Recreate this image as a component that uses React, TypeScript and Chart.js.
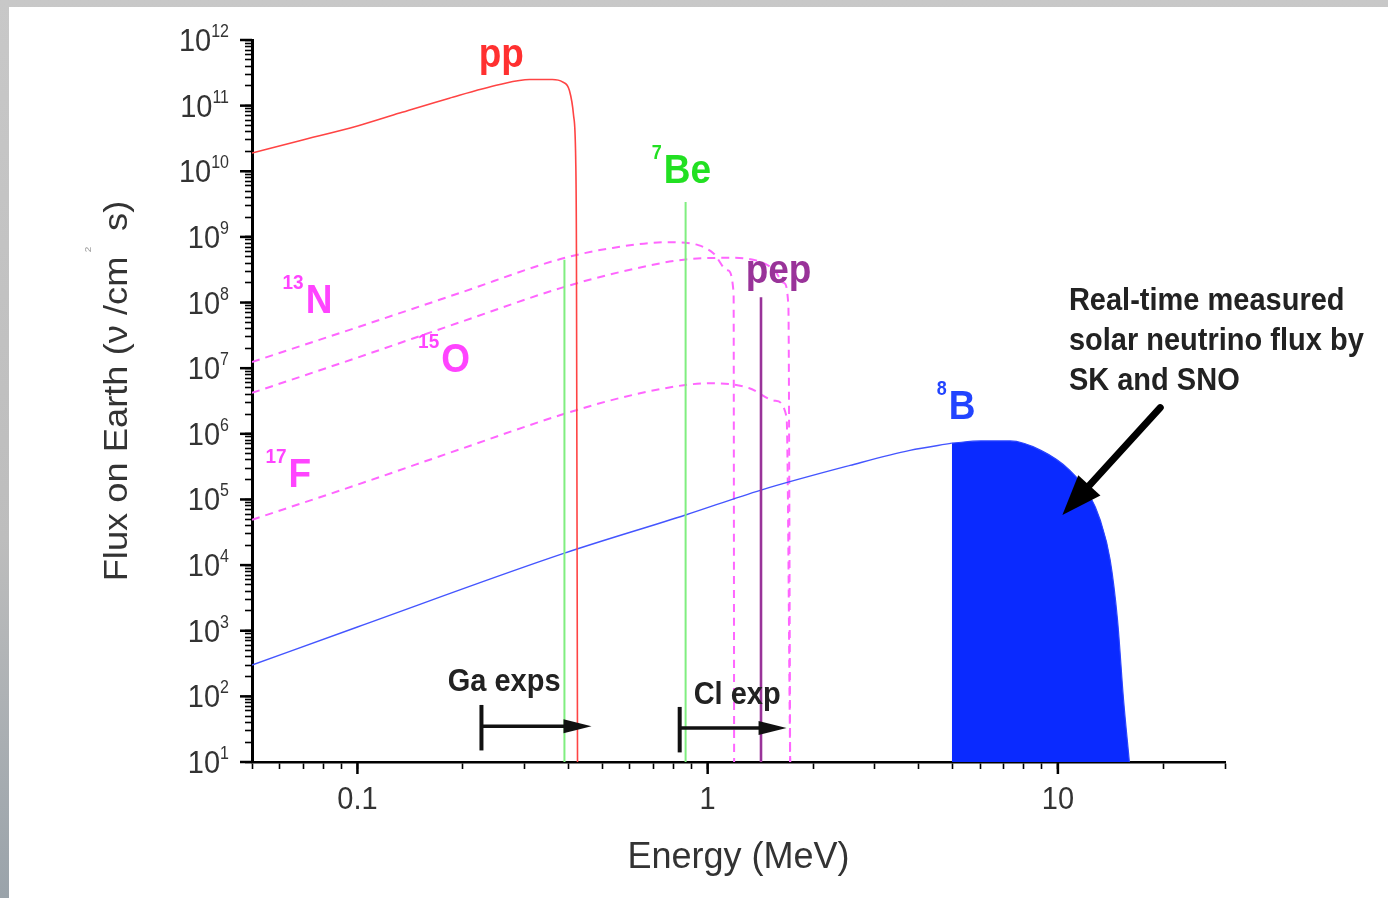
import React, { useEffect, useRef } from "react";
import { Chart, registerables } from "chart.js";

Chart.register(...registerables);

// ---------------- data (energy in MeV, flux in ν / cm² s) ----------------
const ppEnergy = [0.05, 0.068, 0.1, 0.132, 0.183, 0.255, 0.31, 0.36, 0.385, 0.403, 0.414, 0.42, 0.422, 0.425];
const ppFlux = [1.9e10, 2.9e10, 4.9e10, 7.7e10, 1.3e11, 2.1e11, 2.5e11, 2.5e11, 2.3e11, 1.7e11, 7.2e10, 1.5e10, 6.3e8, 10];

const n13Energy = [0.05, 0.1, 0.196, 0.38, 0.535, 0.774, 0.94, 1.04, 1.14, 1.186, 1.19];
const n13Flux = [1.24e7, 4.2e7, 1.4e8, 4.6e8, 6.8e8, 8.3e8, 7.5e8, 5.6e8, 3.1e8, 1.4e8, 10];

const o15Energy = [0.05, 0.1, 0.196, 0.38, 0.56, 0.854, 1.155, 1.41, 1.55, 1.65, 1.7, 1.72];
const o15Flux = [4.2e6, 1.45e7, 5.0e7, 1.66e8, 2.9e8, 4.5e8, 4.8e8, 4.2e8, 3.1e8, 2.0e8, 9.1e7, 10];

const f17Energy = [0.05, 0.1, 0.196, 0.38, 0.56, 0.854, 1.02, 1.31, 1.56, 1.68, 1.72];
const f17Flux = [4.9e4, 1.68e5, 5.8e5, 1.93e6, 3.5e6, 5.5e6, 5.9e6, 5.0e6, 3.2e6, 1.8e6, 10];

const b8Energy = [0.05, 0.1, 0.39, 0.865, 1.42, 2.55, 3.78, 4.98];
const b8Flux = [300, 1140, 1.52e4, 5.8e4, 1.39e5, 3.3e5, 5.6e5, 7.2e5];

const b8MeasuredEnergy = [4.98, 6.03, 7.3, 8.94, 10.8, 12.3, 13.2, 14.1, 14.8, 15.4, 16.0];
const b8MeasuredFlux = [7.2e5, 7.8e5, 7.8e5, 5.6e5, 2.8e5, 1.17e5, 4.9e4, 1.2e4, 1.46e3, 88, 10];

const be7LineEnergy = [0.39, 0.865];
const be7LineFlux = [4.5e8, 3.4e9];
const pepLineEnergy = [1.42];
const pepLineFlux = [1.2e8];

// experiment thresholds (arrows)
const expNames = ["Ga exps", "Cl exp"];
const expThreshold = [0.226, 0.832];
const expArrowEnd = [0.466, 1.68];
const expArrowFlux = [35, 33];
const expBarLow = [15, 14];
const expBarHigh = [74, 69];

// axis ticks
const xTickValues = [0.1, 1, 10];
const xTickLabels = ["0.1", "1", "10"];
const yTickExponents = [1, 2, 3, 4, 5, 6, 7, 8, 9, 10, 11, 12];
const X_MIN = 0.05;
const X_MAX = 30;
const Y_MIN = 10;
const Y_MAX = 1e12;

// annotation anchors (data coordinates)
const labelMain = ["pp", "Be", "pep", "N", "O", "F", "B"];
const labelSup = ["", "7", "", "13", "15", "17", "8"];
const labelEnergy = [0.222, 0.692, 1.284, 0.0611, 0.149, 0.0546, 4.51];
const labelFlux = [3.9e11, 6.6e9, 2.0e8, 6.9e7, 8.7e6, 1.55e5, 1.68e6];
const labelColor = ["#ff3030", "#22e022", "#993399", "#ff44ff", "#ff44ff", "#ff44ff", "#2244ff"];

const noteLines = ["Real-time measured", "solar neutrino flux by", "SK and SNO"];
const noteEnergy = 10.75;
const noteFlux = 7.7e7;
const bigArrowEnergy = [19.6, 10.3];
const bigArrowFlux = [2.5e6, 5.8e4];

// ---------------- helpers ----------------
const FONT = '"Liberation Sans", Arial, Helvetica, sans-serif';
const SY = 1.1;

function pts(xs: number[], ys: number[]) {
  return xs.map((x, i) => ({ x, y: ys[i] }));
}

function txt(ctx: CanvasRenderingContext2D, s: string, x: number, y: number, font: string, color: string, align: CanvasTextAlign = "left") {
  ctx.save();
  ctx.font = font;
  ctx.fillStyle = color;
  ctx.textAlign = align;
  ctx.textBaseline = "alphabetic";
  ctx.translate(x, y);
  ctx.scale(1, SY);
  ctx.fillText(s, 0, 0);
  ctx.restore();
}

function measure(ctx: CanvasRenderingContext2D, s: string, font: string) {
  ctx.save();
  ctx.font = font;
  const w = ctx.measureText(s).width;
  ctx.restore();
  return w;
}

const overlay = {
  id: "overlay",
  afterDraw(chart: any) {
    const { ctx, scales } = chart;
    const xs = scales.x;
    const ys = scales.y;
    const px = (v: number) => xs.getPixelForValue(v);
    const py = (v: number) => ys.getPixelForValue(v);
    const left = chart.chartArea.left;
    const bottom = chart.chartArea.bottom;

    ctx.save();
    // decade (major) ticks
    ctx.strokeStyle = "#000";
    ctx.lineWidth = 2.5;
    yTickExponents.forEach((e) => {
      const ty = py(Math.pow(10, e));
      ctx.beginPath();
      ctx.moveTo(left - 12, ty);
      ctx.lineTo(left, ty);
      ctx.stroke();
    });
    xTickValues.forEach((v) => {
      const tx = px(v);
      ctx.beginPath();
      ctx.moveTo(tx, bottom);
      ctx.lineTo(tx, bottom + 12);
      ctx.stroke();
    });

    // y tick labels 10^n
    const mainF = `29px ${FONT}`;
    const supF = `16px ${FONT}`;
    yTickExponents.forEach((e) => {
      const ty = py(Math.pow(10, e));
      const sw = measure(ctx, String(e), supF);
      const mw = measure(ctx, "10", mainF);
      const supX = 229 - sw;
      const mainX = supX - mw;
      txt(ctx, "10", mainX, ty + 11, mainF, "#333");
      txt(ctx, String(e), supX, ty - 3, supF, "#333");
    });

    // x tick labels
    xTickValues.forEach((v, i) => {
      txt(ctx, xTickLabels[i], px(v), 809, `29px ${FONT}`, "#333", "center");
    });

    // y title (rotated)
    {
      const f = `33px ${FONT}`;
      const fs = `9px ${FONT}`;
      const a = "Flux on Earth (\u03bd /cm";
      const b = "  s)";
      const wa = measure(ctx, a, f);
      const w2 = measure(ctx, "2", fs);
      const wb = measure(ctx, b, f);
      const total = wa + w2 + wb;
      ctx.save();
      ctx.translate(127, 391);
      ctx.scale(1, SY);
      ctx.rotate(-Math.PI / 2);
      ctx.fillStyle = "#333";
      ctx.textBaseline = "alphabetic";
      ctx.textAlign = "left";
      let cx = -total / 2;
      ctx.font = f;
      ctx.fillText(a, cx, 0);
      cx += wa;
      ctx.font = fs;
      ctx.fillStyle = "#999";
      ctx.fillText("2", cx + 4, -36);
      ctx.fillStyle = "#333";
      cx += w2;
      ctx.font = f;
      ctx.fillText(b, cx, 0);
      ctx.restore();
    }

    // isotope labels
    labelMain.forEach((m, i) => {
      const x0 = px(labelEnergy[i]);
      const y0 = py(labelFlux[i]);
      let cx = x0;
      if (labelSup[i]) {
        const sf = `bold ${labelSup[i].length > 1 ? 19 : 18}px ${FONT}`;
        txt(ctx, labelSup[i], cx, y0 - 24, sf, labelColor[i]);
        cx += measure(ctx, labelSup[i], sf) + 2;
      }
      txt(ctx, m, cx, y0, `bold 37px ${FONT}`, labelColor[i]);
    });

    // experiment arrows
    ctx.strokeStyle = "#111";
    ctx.fillStyle = "#111";
    expNames.forEach((name, i) => {
      const x0 = px(expThreshold[i]);
      const x1 = px(expArrowEnd[i]);
      const yy = py(expArrowFlux[i]);
      ctx.lineWidth = 4;
      ctx.beginPath();
      ctx.moveTo(x0, py(expBarLow[i]));
      ctx.lineTo(x0, py(expBarHigh[i]));
      ctx.stroke();
      ctx.lineWidth = 3.5;
      ctx.beginPath();
      ctx.moveTo(x0, yy);
      ctx.lineTo(x1 - 20, yy);
      ctx.stroke();
      ctx.beginPath();
      ctx.moveTo(x1, yy);
      ctx.lineTo(x1 - 28, yy - 7);
      ctx.lineTo(x1 - 28, yy + 7);
      ctx.closePath();
      ctx.fill();
    });
    txt(ctx, expNames[0], px(0.181), py(120), `bold 29px ${FONT}`, "#222");
    txt(ctx, expNames[1], px(0.912), py(76), `bold 29px ${FONT}`, "#222");

    // note text
    const nx = px(noteEnergy);
    const ny = py(noteFlux);
    noteLines.forEach((l, i) => {
      txt(ctx, l, nx, ny + i * 40, `bold 29px ${FONT}`, "#222");
    });

    // big arrow
    {
      const tx = px(bigArrowEnergy[0]);
      const tyy = py(bigArrowFlux[0]);
      const hx = px(bigArrowEnergy[1]);
      const hy = py(bigArrowFlux[1]);
      const ang = Math.atan2(hy - tyy, hx - tx);
      const L = 40;
      const W = 15;
      const bx = hx - L * Math.cos(ang);
      const by = hy - L * Math.sin(ang);
      ctx.strokeStyle = "#000";
      ctx.fillStyle = "#000";
      ctx.lineWidth = 7;
      ctx.lineCap = "round";
      ctx.beginPath();
      ctx.moveTo(tx, tyy);
      ctx.lineTo(bx + 5 * Math.cos(ang), by + 5 * Math.sin(ang));
      ctx.stroke();
      ctx.beginPath();
      ctx.moveTo(hx, hy);
      ctx.lineTo(bx + W * Math.sin(ang), by - W * Math.cos(ang));
      ctx.lineTo(bx - W * Math.sin(ang), by + W * Math.cos(ang));
      ctx.closePath();
      ctx.fill();
    }
    ctx.restore();
  },
};

function decadeTicks(min: number, max: number) {
  const out: { value: number }[] = [];
  for (let e = Math.floor(Math.log10(min)); e <= Math.ceil(Math.log10(max)); e++) {
    for (let m = 1; m <= 9; m++) {
      const v = m * Math.pow(10, e);
      if (v >= min * 0.999 && v <= max * 1.001) out.push({ value: v });
    }
  }
  return out;
}

export default function App() {
  const ref = useRef<HTMLCanvasElement>(null);

  useEffect(() => {
    if (!ref.current) return;
    const line = (data: any, color: string, width: number, dash: number[] = [], order = 0, smooth = true) => ({
      data,
      borderColor: color,
      borderWidth: width,
      borderDash: dash,
      pointRadius: 0,
      fill: false,
      cubicInterpolationMode: smooth ? "monotone" : "default",
      tension: 0,
      order,
    });
    const datasets: any[] = [
      line(pts(ppEnergy, ppFlux), "#ff4444", 1.6, [], 1),
      line(pts(n13Energy, n13Flux), "#ff66ff", 2, [8, 6], 3),
      line(pts(o15Energy, o15Flux), "#ff66ff", 2, [8, 6], 3),
      line(pts(f17Energy, f17Flux), "#ff66ff", 2, [8, 6], 3),
      line(pts(b8Energy, b8Flux), "#4455ff", 1.4, [], 2),
      {
        ...line(pts(b8MeasuredEnergy, b8MeasuredFlux), "#2a44ff", 1.2, [], 2),
        fill: "start",
        backgroundColor: "#0a2aff",
      },
      ...be7LineEnergy.map((e, i) =>
        line(pts([e, e], [be7LineFlux[i], Y_MIN]), "#80ee80", 2, [], 0, false)
      ),
      ...pepLineEnergy.map((e, i) =>
        line(pts([e, e], [pepLineFlux[i], Y_MIN]), "#993399", 2.6, [], 0, false)
      ),
    ];

    const chart = new Chart(ref.current, {
      type: "line",
      data: { datasets },
      options: {
        responsive: false,
        animation: false,
        devicePixelRatio: 1,
        layout: { padding: { top: 40, right: 163, left: 0, bottom: 0 } },
        plugins: { legend: { display: false }, tooltip: { enabled: false } },
        scales: {
          x: {
            type: "logarithmic",
            min: X_MIN,
            max: X_MAX,
            afterBuildTicks: (s: any) => {
              s.ticks = decadeTicks(X_MIN, X_MAX);
            },
            afterFit: (s: any) => {
              s.height = 136;
            },
            ticks: { display: false },
            grid: {
              drawOnChartArea: false,
              drawTicks: true,
              tickLength: 7,
              tickColor: "#000",
              tickWidth: 1.6,
            },
            border: { display: true, color: "#000", width: 2.5 },
            title: {
              display: true,
              text: "Energy (MeV)",
              color: "#333",
              font: { family: FONT, size: 36, lineHeight: 1 },
              padding: { top: 0, bottom: 22 },
            },
          },
          y: {
            type: "logarithmic",
            min: Y_MIN,
            max: Y_MAX,
            afterBuildTicks: (s: any) => {
              s.ticks = decadeTicks(Y_MIN, Y_MAX);
            },
            afterFit: (s: any) => {
              s.width = 252;
            },
            ticks: { display: false },
            grid: {
              drawOnChartArea: false,
              drawTicks: true,
              tickLength: 7,
              tickColor: "#000",
              tickWidth: 1.6,
            },
            border: { display: true, color: "#000", width: 3 },
          },
        },
      } as any,
      plugins: [overlay],
    });
    return () => chart.destroy();
  }, []);

  return (
    <div
      style={{
        position: "fixed",
        left: 0,
        top: 0,
        width: 1388,
        height: 898,
        background: "linear-gradient(180deg, #c8c8c8 0%, #bdbdbd 60%, #9aa3aa 100%)",
        overflow: "hidden",
      }}
    >
      <div style={{ position: "absolute", left: 9, top: 7, right: 0, bottom: 0, background: "#fff" }} />
      <canvas
        ref={ref}
        width={1388}
        height={898}
        style={{ position: "absolute", left: 0, top: 0, width: 1388, height: 898 }}
      />
    </div>
  );
}
